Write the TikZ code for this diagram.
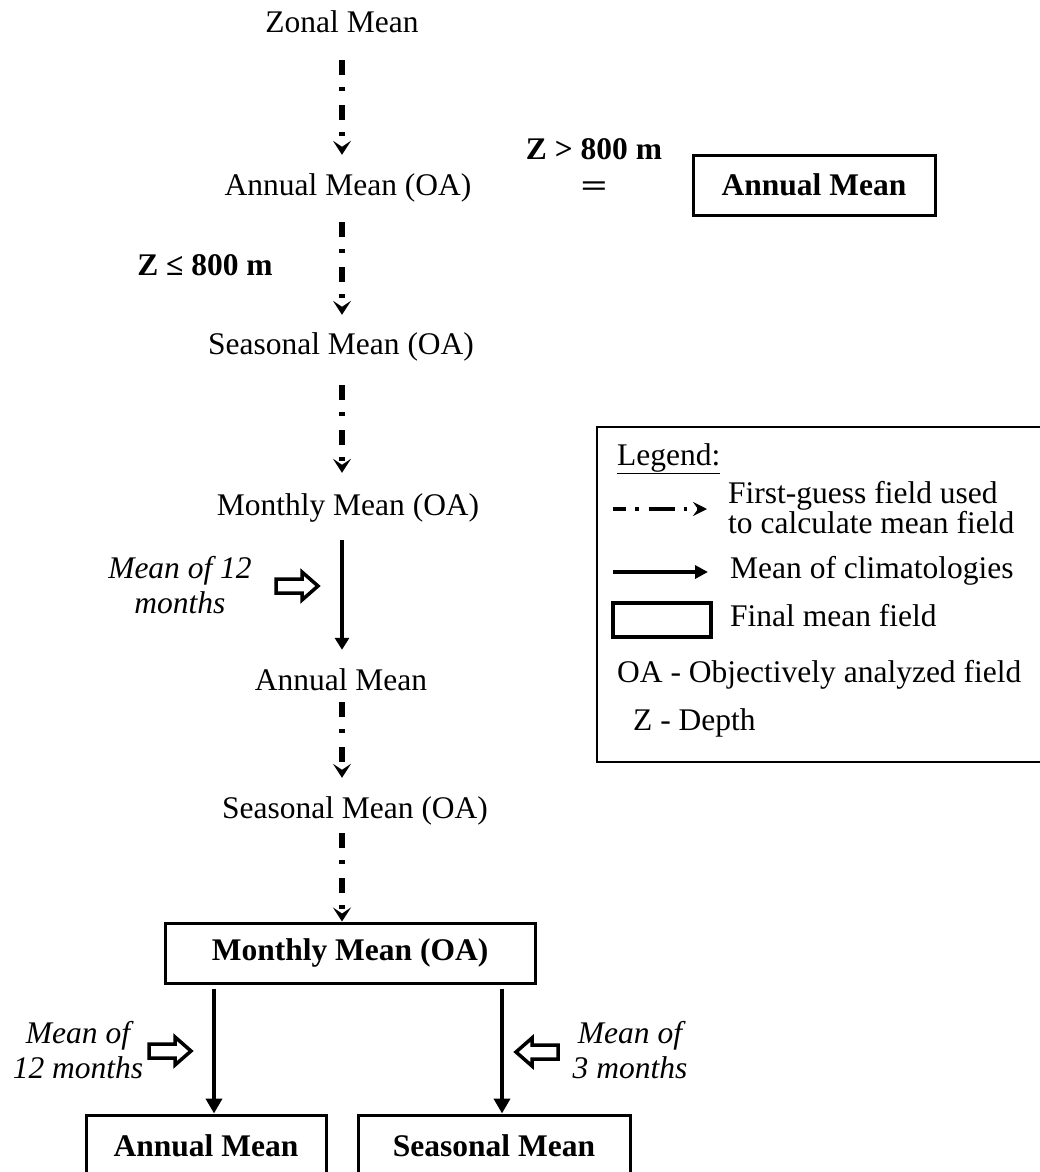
\documentclass[tikz,border=0pt]{standalone}
\usepackage{fontspec}
\usepackage{graphicx}
\setmainfont{Liberation Serif}
\usetikzlibrary{arrows.meta}

% hollow block arrow, #1 = 1 (right) or -1 (left), #2 = centre
\newcommand{\fatarrow}[2][1]{\draw[hollow, shift={#2}, xscale=#1] (0,0) ++(-21,-7) -- ++(26,0) -- ++(0,-7) -- ++(16,14) -- ++(-16,14) -- ++(0,-7) -- ++(-26,0) -- cycle;}

\begin{document}
\begin{tikzpicture}[
  x = 1pt, y = -1pt,
  every node/.style={inner sep=0pt, font=\fontsize{31.5}{35}\selectfont},
  flowtext/.style={anchor=base, text height=22pt, text depth=7pt},
  boldtext/.style={anchor=base, font=\fontsize{31.5}{35}\selectfont\bfseries},
  note/.style={align=center, font=\fontsize{31.5}{35}\selectfont\itshape},
  legtext/.style={anchor=base west},
  firstguess/.style={line width=5.5pt, dash pattern=on 15pt off 12pt on 4pt off 14pt, -{Stealth[length=14pt, width=18pt, inset=6pt]}},
  climmean/.style={line width=4pt, -{Triangle[length=12pt, width=14pt]}},
  bigtip/.style={-{Triangle[length=15pt, width=16pt]}},
  final/.style={draw, line width=3pt, minimum height=60pt, font=\fontsize{31.5}{35}\selectfont\bfseries},
  hollow/.style={draw, line width=3.5pt, fill=white, line join=miter}
]
\useasboundingbox (0,0) rectangle (1039,1172);
\coordinate (axis) at (342,0);

%first-guess chain
\node[flowtext] (zonal)  at (342,33)  {Zonal Mean};
\node[flowtext] (annOA)  at (348,195) {Annual Mean (OA)};
\node[flowtext] (seasOA) at (341,354) {Seasonal Mean (OA)};
\node[flowtext] (monOA)  at (348,515) {Monthly Mean (OA)};
\node[flowtext] (ann)    at (341,690) {Annual Mean};
\node[flowtext] (seas)   at (355,818) {Seasonal Mean (OA)};
\node[final, minimum width=370pt] (monFinal) at (350,953) {Monthly Mean (OA)};

\draw[firstguess, shorten <=20pt, shorten >=18pt] (zonal.south -| axis) -- (annOA.north -| axis);
\draw[firstguess, shorten <=20pt, shorten >=17pt] (annOA.south -| axis) -- (seasOA.north -| axis);
\draw[firstguess, shorten <=24pt, shorten >=20pt] (seasOA.south -| axis) -- (monOA.north -| axis);
\draw[climmean,   shorten <=18pt, shorten >=18pt] (monOA.south -| axis) -- (ann.north -| axis);
\draw[firstguess, shorten <=5pt,  shorten >=18pt] (ann.south -| axis) -- (seas.north -| axis);
\draw[firstguess, shorten <=8pt] (seas.south -| axis) -- (monFinal.north -| axis);

%depth split
\node[anchor=south, align=center, font=\fontsize{31.5}{35}\selectfont\bfseries] (deep) at (594,197) {Z > 800 m\\[2pt]\scalebox{1.5}[1]{=}};
\node[final, minimum width=242pt] (annTop) at (814,185) {Annual Mean};
\node[boldtext] (shallow) at (205,275) {Z ≤ 800 m};

%mean of 12 months (middle)
\node[note] (twelveA) at (180,585) {Mean of 12\\months};
\fatarrow{(297,586)}

%final fields
\node[final, minimum width=240pt, minimum height=62pt] (annBot)  at (206,1146) {Annual Mean};
\node[final, minimum width=272pt, minimum height=62pt] (seasBot) at (494,1146) {Seasonal Mean};
\coordinate (annIn)  at ([xshift=8pt]annBot.north);
\coordinate (seasIn) at ([xshift=8pt]seasBot.north);
\draw[climmean, bigtip, shorten <=4pt] (monFinal.south -| annIn)  -- (annIn);
\draw[climmean, bigtip, shorten <=4pt] (monFinal.south -| seasIn) -- (seasIn);

\node[note] (twelveB) at (78,1050)  {Mean of\\12 months};
\node[note] (three)   at (630,1050) {Mean of\\3 months};
\fatarrow{(170,1051)}
\fatarrow[-1]{(537,1052)}

%legend
\draw[line width=2pt] (597,427) rectangle (1060,762);
\node[legtext] (legTitle) at (617,465) {\underline{Legend:}};
\coordinate (fgA) at (613,509);
\coordinate (fgB) at (707,509);
\draw[line width=3.5pt, dash pattern=on 26pt off 9pt on 3.5pt off 10pt, dash phase=13pt, -{Stealth[length=14pt, width=14pt, inset=5pt]}] (fgA) -- (fgB);
\node[anchor=west, align=left, font=\fontsize{31.5}{28}\selectfont] (fgText) at (728,508) {First-guess field used\\to calculate mean field};
\coordinate (cmA) at (613,572);
\coordinate (cmB) at (708,572);
\draw[line width=4pt, -{Triangle[length=13pt, width=13pt]}] (cmA) -- (cmB);
\node[legtext] (cmText) at (730,578) {Mean of climatologies};
\draw[line width=3.3pt] (613,603) rectangle (711,637);
\node[legtext] (fmText) at (730,626) {Final mean field};
\node[legtext] (oaText) at (617,682) {OA - Objectively analyzed field};
\node[legtext] (zText)  at (633,730) {Z - Depth};

\end{tikzpicture}
\end{document}
